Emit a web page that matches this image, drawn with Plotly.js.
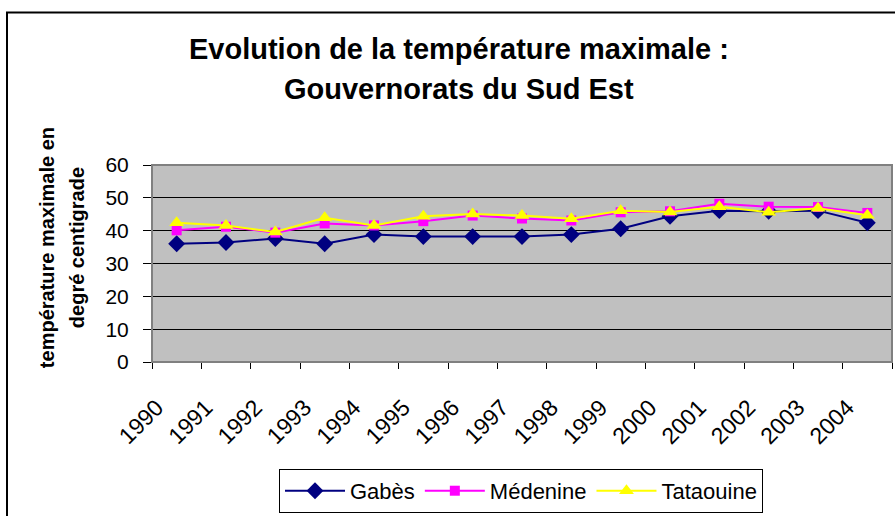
<!DOCTYPE html>
<html>
<head>
<meta charset="utf-8">
<script src="https://cdn.plot.ly/plotly-3.0.1.min.js"></script>
<style>html,body{margin:0;padding:0;background:#fff}#chart{width:895px;height:516px}</style>
</head>
<body>
<div id="chart"></div>
<script>
const years = ["1990","1991","1992","1993","1994","1995","1996","1997","1998","1999","2000","2001","2002","2003","2004"];
const gabes = [36.0,36.4,37.6,36.0,38.8,38.2,38.2,38.2,38.8,40.6,44.4,46.1,45.9,46.1,42.4];
const medenine = [40.1,41.2,39.4,42.2,41.6,42.9,44.6,43.7,43.1,45.6,45.9,48.2,47.3,47.2,45.4];
const tataouine = [42.4,41.6,39.6,43.9,41.6,44.4,45.1,44.6,43.6,46.1,45.7,47.3,45.6,46.8,44.7];
const yTicks = [0,10,20,30,40,50,60];

const F = "Liberation Sans, Arial, sans-serif";
const W = 895, H = 516, L = 152, R = 3, T = 165, B = 152;
const pw = W - L - R, ph = H - T - B;
const px = v => (v - L) / pw;
const py = v => (H - B - v) / ph;

const traces = [
  {name:"Gabès", x:years, y:gabes, mode:"lines+markers", type:"scatter",
   line:{color:"#000080", width:2}, marker:{symbol:"diamond", size:13, color:"#000080"}},
  {name:"Médenine", x:years, y:medenine, mode:"lines+markers", type:"scatter",
   line:{color:"#FF00FF", width:2}, marker:{symbol:"square", size:10, color:"#FF00FF"}},
  {name:"Tataouine", x:years, y:tataouine, mode:"lines+markers", type:"scatter",
   line:{color:"#FFFF00", width:2}, marker:{symbol:"triangle-up", size:13, color:"#FFFF00"}}
];

const layout = {
  width: W, height: H,
  margin:{l:L, r:R, t:T, b:B, pad:0},
  paper_bgcolor:"#ffffff", plot_bgcolor:"#C0C0C0",
  font:{family:F, color:"#000", size:20},
  showlegend:true,
  legend:{orientation:"h", x:px(521), xanchor:"center", y:py(472), yanchor:"top",
    bordercolor:"#000", borderwidth:1, bgcolor:"#fff", font:{family:F, size:22, color:"#000"},
    itemwidth:60, tracegroupgap:0},
  xaxis:{type:"category", range:[-0.5,14.5], tickangle:-45, ticks:"outside", ticklen:6,
    tickson:"boundaries", tickcolor:"#000", showgrid:false, showline:true, linecolor:"#000", linewidth:1,
    ticklabelstandoff:22, ticklabelshift:-20,
    tickfont:{family:F, size:23, color:"#000"}, zeroline:false, fixedrange:true},
  yaxis:{range:[0,60], tickvals:yTicks, ticktext:yTicks.map(String), ticks:"outside", ticklen:8,
    tickcolor:"#000", showgrid:true, gridcolor:"#000", gridwidth:1, showline:true, linecolor:"#000",
    linewidth:1, zeroline:false, ticklabelstandoff:10, tickfont:{family:F, size:21, color:"#000"}, fixedrange:true},
  shapes:[
    {type:"rect", xref:"paper", yref:"paper", x0:0, x1:1, y0:0, y1:1, line:{color:"#808080", width:2}, layer:"above"},
    {type:"rect", xref:"paper", yref:"paper", x0:px(7), x1:px(905), y0:py(526), y1:py(11), line:{color:"#000", width:2}, layer:"above"}
  ],
  annotations:[
    {text:"<b>Evolution de la température maximale :</b>", xref:"paper", yref:"paper", x:px(459), y:py(48),
     xanchor:"center", yanchor:"middle", showarrow:false, font:{family:F, size:29, color:"#000"}},
    {text:"<b>Gouvernorats du Sud Est</b>", xref:"paper", yref:"paper", x:px(459), y:py(88),
     xanchor:"center", yanchor:"middle", showarrow:false, font:{family:F, size:29, color:"#000"}},
    {text:"<b>température maximale en</b>", xref:"paper", yref:"paper", x:px(47), y:py(249),
     xanchor:"center", yanchor:"middle", textangle:-90, showarrow:false, font:{family:F, size:20, color:"#000"}},
    {text:"<b>degré centigrade</b>", xref:"paper", yref:"paper", x:px(77), y:py(249),
     xanchor:"center", yanchor:"middle", textangle:-90, showarrow:false, font:{family:F, size:20, color:"#000"}}
  ]
};

Plotly.newPlot("chart", traces, layout, {displayModeBar:false, staticPlot:true});
</script>
</body>
</html>
